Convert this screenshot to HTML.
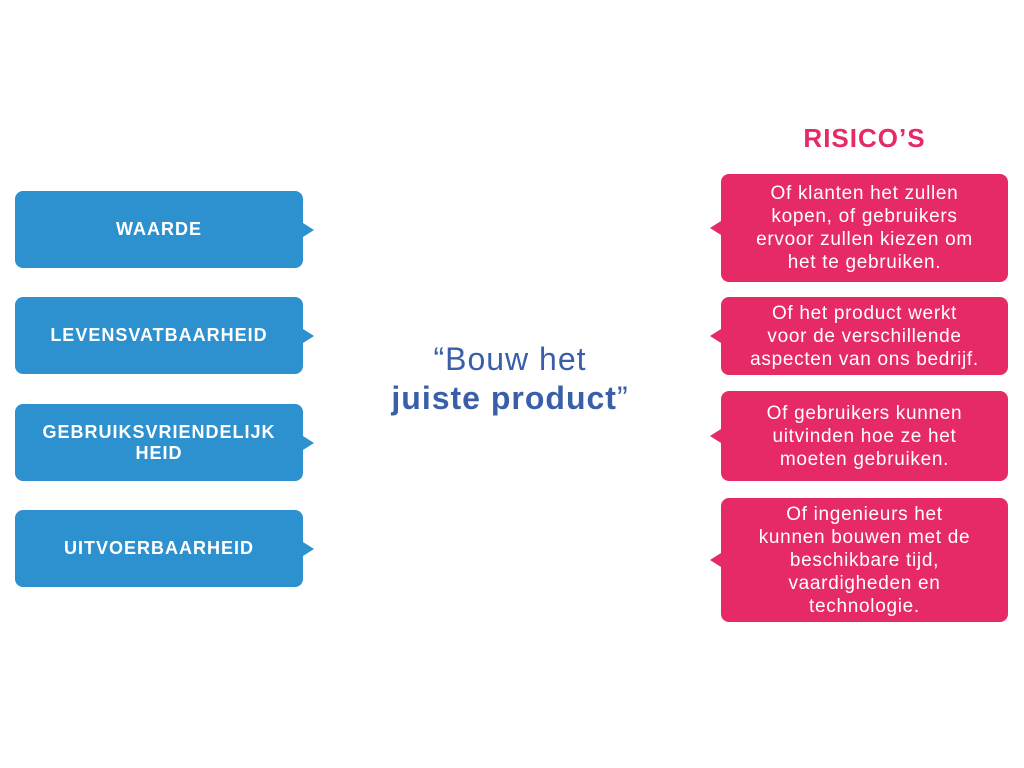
<!DOCTYPE html>
<html><head><meta charset="utf-8"><style>
body{margin:0;width:1024px;height:768px;background:#fff;position:relative;overflow:hidden;font-family:"Liberation Sans",sans-serif}
.b{position:absolute;left:15px;width:288px;height:77px;background:#2d91cf;border-radius:8px;color:#fff;font-weight:bold;font-size:18px;letter-spacing:1px;display:flex;align-items:center;justify-content:center;text-align:center;line-height:21px}
.b::after{content:"";position:absolute;right:-11px;top:50%;margin-top:-7px;border-left:11px solid #2d91cf;border-top:7px solid transparent;border-bottom:7px solid transparent}
.p{position:absolute;left:721px;width:287px;background:#e52a66;border-radius:8px;color:#fff;font-size:19px;letter-spacing:0.7px;display:flex;align-items:center;justify-content:center;text-align:center;line-height:23px}
.p::before{content:"";position:absolute;left:-11px;top:50%;margin-top:-7px;border-right:11px solid #e52a66;border-top:7px solid transparent;border-bottom:7px solid transparent}
</style></head><body>
<div class="b" style="top:191px">WAARDE</div>
<div class="b" style="top:297px">LEVENSVATBAARHEID</div>
<div class="b" style="top:404px">GEBRUIKSVRIENDELIJK<br>HEID</div>
<div class="b" style="top:510px">UITVOERBAARHEID</div>
<div style="position:absolute;left:310px;width:400px;top:340px;text-align:center;color:#3a5fa8;font-size:32px;letter-spacing:1px;line-height:39px">“Bouw het<br><b>juiste product</b>”</div>
<div style="position:absolute;left:721px;width:287px;top:123px;text-align:center;color:#e52a66;font-weight:bold;font-size:26px;letter-spacing:1px">RISICO’S</div>
<div class="p" style="top:174px;height:108px">Of klanten het zullen<br>kopen, of gebruikers<br>ervoor zullen kiezen om<br>het te gebruiken.</div>
<div class="p" style="top:297px;height:78px">Of het product werkt<br>voor de verschillende<br>aspecten van ons bedrijf.</div>
<div class="p" style="top:391px;height:90px">Of gebruikers kunnen<br>uitvinden hoe ze het<br>moeten gebruiken.</div>
<div class="p" style="top:498px;height:124px">Of ingenieurs het<br>kunnen bouwen met de<br>beschikbare tijd,<br>vaardigheden en<br>technologie.</div>
</body></html>
